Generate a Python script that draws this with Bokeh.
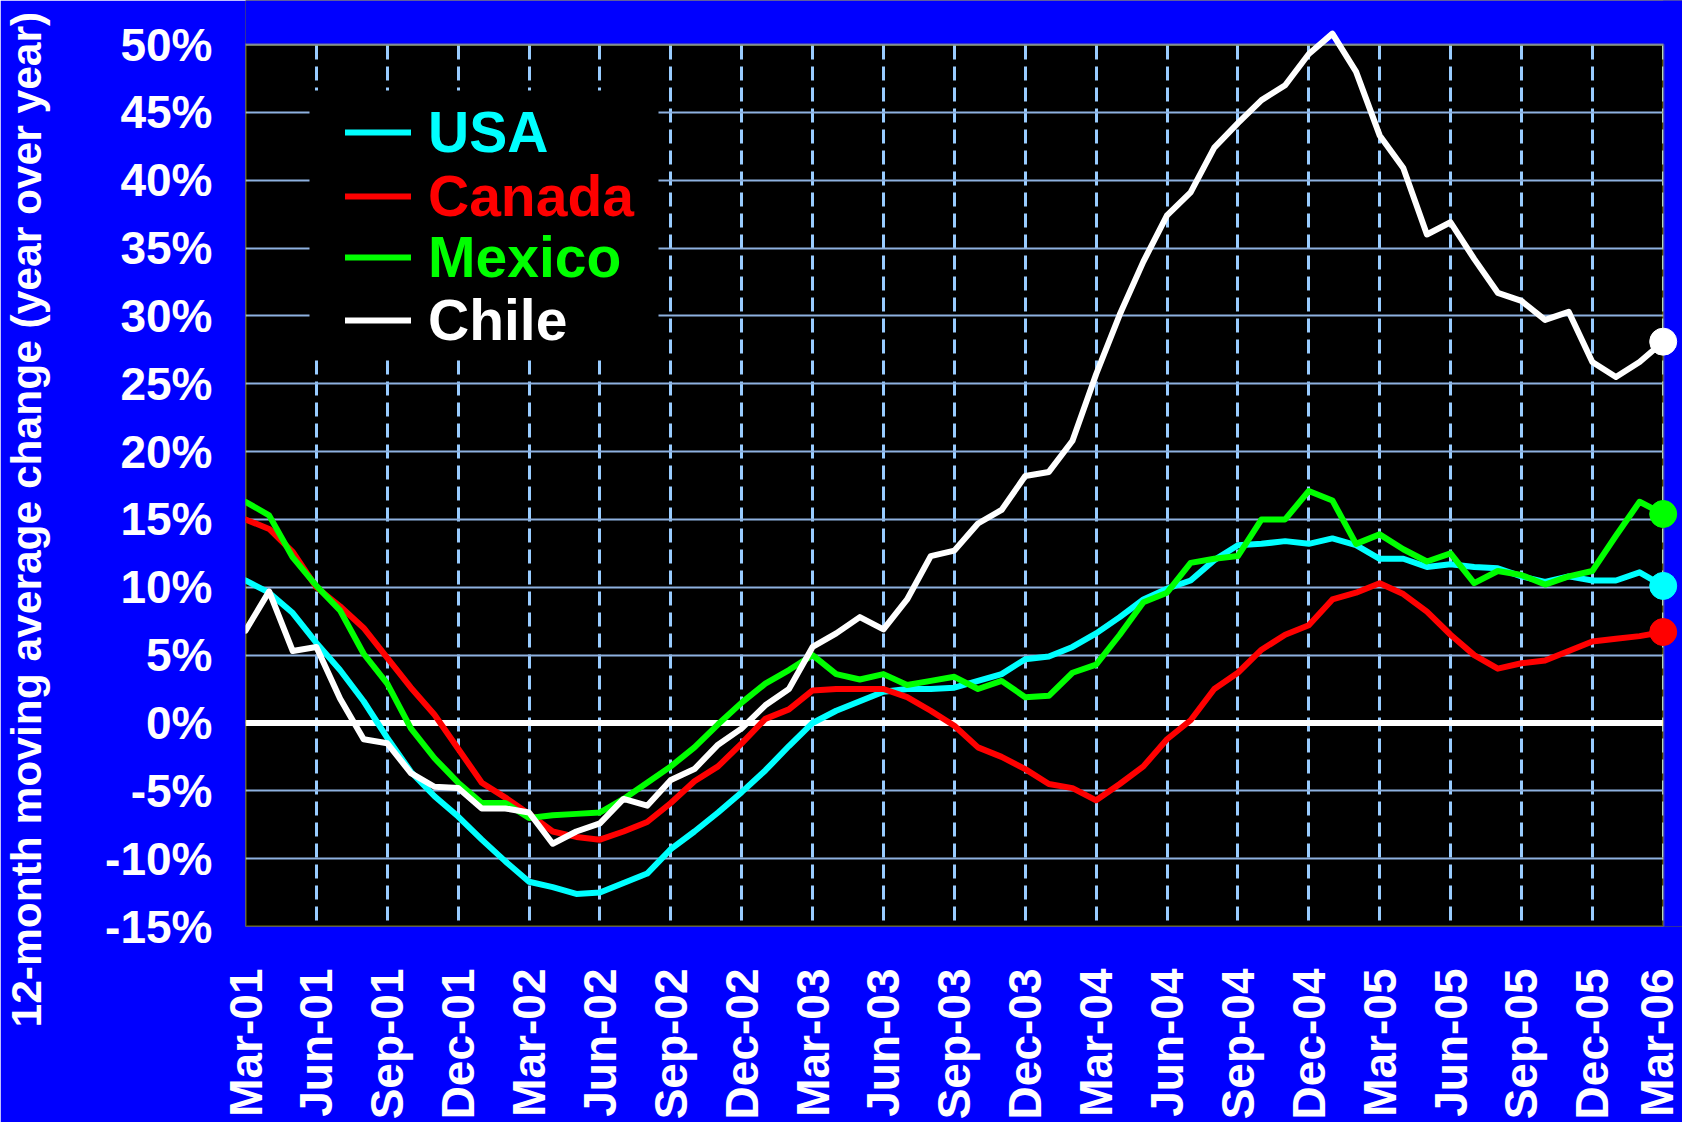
import numpy as np
from math import pi
from bokeh.plotting import figure
from bokeh.models import (Range1d, FixedTicker, PrintfTickFormatter, Span, BoxAnnotation,
                          Title, Legend, LegendItem, ColumnDataSource)
from bokeh.embed import file_html
from bokeh.resources import INLINE

# ---------------- data ----------------
month_index = list(range(61))          # monthly, Mar-01 ... Mar-06
tick_positions = list(range(0, 61, 3))
tick_labels = ["Mar-01", "Jun-01", "Sep-01", "Dec-01",
               "Mar-02", "Jun-02", "Sep-02", "Dec-02",
               "Mar-03", "Jun-03", "Sep-03", "Dec-03",
               "Mar-04", "Jun-04", "Sep-04", "Dec-04",
               "Mar-05", "Jun-05", "Sep-05", "Dec-05",
               "Mar-06"]
y_ticks = list(range(-15, 51, 5))

usa = [10.5, 9.6, 8.1, 5.9, 3.9, 1.6, -1.1, -3.6, -5.4, -6.9,
       -8.6, -10.2, -11.7, -12.1, -12.6, -12.5, -11.8, -11.1, -9.3, -8.0,
       -6.6, -5.1, -3.5, -1.7, 0.0, 0.9, 1.6, 2.3, 2.5, 2.5,
       2.6, 3.1, 3.6, 4.7, 4.9, 5.6, 6.6, 7.8, 9.1, 9.9,
       10.5, 12.0, 13.1, 13.2, 13.4, 13.2, 13.6, 13.1, 12.1, 12.1,
       11.5, 11.7, 11.5, 11.4, 10.8, 10.4, 10.8, 10.5, 10.5, 11.1,
       10.1]
canada = [15.0, 14.3, 12.6, 10.0, 8.6, 7.0, 4.8, 2.6, 0.6, -1.9,
          -4.4, -5.5, -6.7, -8.0, -8.4, -8.6, -8.0, -7.3, -5.9, -4.3,
          -3.2, -1.5, 0.3, 1.0, 2.4, 2.5, 2.5, 2.5, 1.9, 0.9,
          -0.2, -1.8, -2.5, -3.4, -4.5, -4.8, -5.7, -4.5, -3.2, -1.2,
          0.2, 2.5, 3.7, 5.4, 6.5, 7.2, 9.1, 9.6, 10.3, 9.5,
          8.2, 6.5, 5.0, 4.0, 4.4, 4.6, 5.3, 6.0, 6.2, 6.4,
          6.7]
mexico = [16.3, 15.3, 12.2, 10.1, 8.3, 5.1, 2.9, -0.4, -2.6, -4.4,
          -5.9, -5.9, -7.0, -6.8, -6.7, -6.6, -5.6, -4.4, -3.2, -1.8,
          -0.1, 1.5, 2.9, 3.9, 5.0, 3.6, 3.2, 3.6, 2.8, 3.1,
          3.4, 2.5, 3.1, 1.9, 2.0, 3.7, 4.3, 6.5, 8.9, 9.6,
          11.8, 12.1, 12.3, 15.0, 15.0, 17.1, 16.4, 13.2, 13.9, 12.8,
          11.9, 12.5, 10.3, 11.2, 10.9, 10.2, 10.8, 11.2, 13.8, 16.3,
          15.4]
chile = [6.8, 9.7, 5.3, 5.6, 1.8, -1.2, -1.5, -3.7, -4.7, -4.8,
         -6.3, -6.3, -6.6, -8.9, -8.0, -7.4, -5.6, -6.1, -4.2, -3.4,
         -1.6, -0.4, 1.3, 2.5, 5.6, 6.6, 7.8, 6.9, 9.1, 12.3,
         12.7, 14.7, 15.7, 18.2, 18.5, 20.8, 25.7, 30.1, 34.0, 37.4,
         39.1, 42.4, 44.2, 45.9, 47.0, 49.3, 50.8, 48.0, 43.3, 40.9,
         36.0, 36.9, 34.2, 31.7, 31.1, 29.7, 30.3, 26.6, 25.5, 26.6,
         28.1]

series_names = ["USA", "Canada", "Mexico", "Chile"]
series_colors = ["#00ffff", "#ff0000", "#00ff00", "#ffffff"]
series_values = [usa, canada, mexico, chile]

# ---------------- geometry / style ----------------
FONT = "Liberation Sans"
W, H = 1682, 1122
LEFT, BOTTOM = 245, 196
FRAME_W, FRAME_H = W - LEFT, H - BOTTOM
PX_PER_MONTH = (1662.7 - LEFT) / 60.0
PX_PER_PCT = (FRAME_H - 44.0) / 65.0
x_end = FRAME_W / PX_PER_MONTH
y_end = 50 + 44.0 / PX_PER_PCT

p = figure(width=W, height=H, output_backend="svg", toolbar_location=None,
           x_range=Range1d(0, x_end), y_range=Range1d(-15, y_end),
           min_border_left=LEFT, min_border_right=0, min_border_top=0,
           min_border_bottom=BOTTOM,
           background_fill_color="black", border_fill_color="#0000ff",
           outline_line_color=None)

# grids
p.xgrid.ticker = FixedTicker(ticks=tick_positions)
p.xgrid.grid_line_color = "#99ccff"
p.xgrid.grid_line_width = 3
p.xgrid.grid_line_dash = "14 7"
p.xgrid.grid_line_dash_offset = 15
p.ygrid.ticker = FixedTicker(ticks=y_ticks)
p.ygrid.grid_line_color = "#8eb1e0"
p.ygrid.grid_line_width = 2

# axes
for ax in (p.xaxis, p.yaxis):
    ax.axis_line_color = None
    ax.major_tick_line_color = None
    ax.minor_tick_line_color = None
    ax.major_tick_out = 0
    ax.major_tick_in = 0
    ax.major_label_text_font = FONT
    ax.major_label_text_font_style = "bold"
    ax.major_label_text_color = "white"
    ax.major_label_text_font_size = "46px"

p.xaxis.ticker = FixedTicker(ticks=tick_positions)
p.xaxis.major_label_overrides = dict(zip(tick_positions, tick_labels))
p.xaxis.major_label_orientation = pi / 2
p.xaxis.major_label_standoff = 42

p.yaxis.ticker = FixedTicker(ticks=y_ticks)
p.yaxis.formatter = PrintfTickFormatter(format="%d%%")
p.yaxis.major_label_standoff = 33

# zero line, masks, border, legend box
p.add_layout(Span(location=0, dimension="width", line_color="white",
                  line_width=6, level="underlay"))
p.add_layout(BoxAnnotation(left=60, fill_color="#0000ff", fill_alpha=1,
                           line_color=None, level="underlay"))
p.add_layout(BoxAnnotation(bottom=50, fill_color="#0000ff", fill_alpha=1,
                           line_color=None, level="underlay"))
p.add_layout(BoxAnnotation(left=64, right=413, bottom=568, top=836,
                           left_units="screen", right_units="screen",
                           top_units="screen", bottom_units="screen",
                           fill_color="black", fill_alpha=1, line_color=None,
                           level="underlay"))
p.add_layout(BoxAnnotation(left=0, right=60, bottom=-15, top=50,
                           fill_color=None, fill_alpha=0, line_color="yellow",
                           line_width=2.5, level="underlay"))

# series
src = ColumnDataSource(dict(month=month_index, USA=usa, Canada=canada,
                            Mexico=mexico, Chile=chile))
renderers = []
for name, color in zip(series_names, series_colors):
    r = p.line("month", name, source=src, line_color=color, line_width=6,
               line_join="round", line_cap="round")
    renderers.append(r)

end_src = ColumnDataSource(dict(month=[month_index[-1]] * 4,
                                value=[v[-1] for v in series_values],
                                color=series_colors))
p.scatter("month", "value", source=end_src, size=27, marker="circle",
          fill_color="color", line_color="color")

# legends (one per entry, to colour each label like its line)
row_y = [759, 695, 634, 571]
for name, color, r, vy in zip(series_names, series_colors, renderers, row_y):
    leg = Legend(items=[LegendItem(label=name, renderers=[r])],
                 location=(100, vy), padding=0, margin=0, spacing=0,
                 glyph_width=66, glyph_height=70, label_height=70,
                 label_standoff=17, label_text_font=FONT,
                 label_text_font_style="bold", label_text_font_size="57px",
                 label_text_color=color, border_line_color=None,
                 background_fill_alpha=0)
    p.add_layout(leg)

# y axis title (in the left panel, started below the frame bottom)
p.add_layout(Title(text="12-month moving average change (year over year)",
                   align="left", offset=-101, vertical_align="bottom",
                   standoff=10, padding=dict(left=0, right=0, top=0, bottom=48),
                   text_font=FONT, text_font_style="bold",
                   text_font_size="42.5px", text_color="white"), "left")

open("out.html", "w").write(file_html(p, INLINE))
